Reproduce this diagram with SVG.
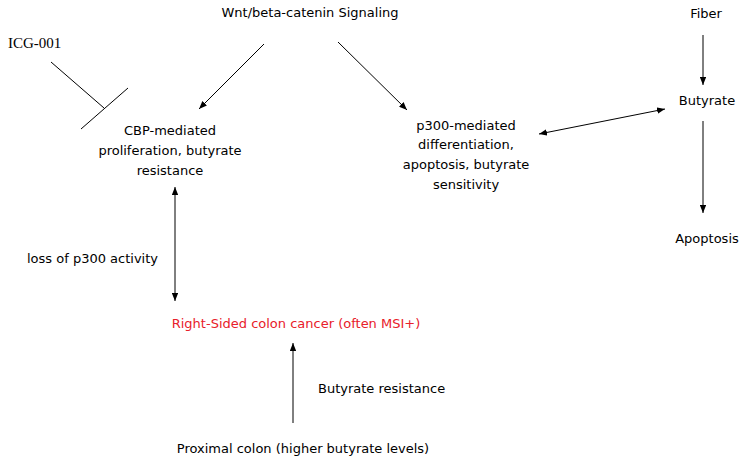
<svg xmlns="http://www.w3.org/2000/svg" width="746" height="462" viewBox="0 0 746 462">
<style>
text{font-family:"DejaVu Sans","Verdana",sans-serif;font-size:13px;fill:#000}
.m{text-anchor:middle}
.serif{font-family:"Liberation Serif","Times New Roman",serif;font-size:15px}
.red{fill:#e8202a}
.c line{stroke:#000;stroke-width:1}
.a{marker-end:url(#ah)}
.b{marker-start:url(#ahs);marker-end:url(#ah)}
</style>
<defs>
<marker id="ah" viewBox="0 0 10 8" refX="10" refY="4" markerWidth="8" markerHeight="6.4" markerUnits="userSpaceOnUse" orient="auto"><path d="M0,0L10,4L0,8z" fill="#000"/></marker>
<marker id="ahs" viewBox="0 0 10 8" refX="0" refY="4" markerWidth="8" markerHeight="6.4" markerUnits="userSpaceOnUse" orient="auto"><path d="M10,0L0,4L10,8z" fill="#000"/></marker>
</defs>
<rect width="746" height="462" fill="#fff"/>
<g class="c" id="connectors">
<line x1="51" y1="62" x2="104" y2="108"/>
<line x1="81" y1="129" x2="128" y2="88"/>
<line class="a" x1="264" y1="44" x2="199" y2="109"/>
<line class="a" x1="338" y1="42" x2="407" y2="110"/>
<line class="b" x1="539" y1="134" x2="665" y2="109"/>
<line class="a" x1="703" y1="35" x2="703" y2="85"/>
<line class="a" x1="703" y1="121" x2="703" y2="213"/>
<line class="b" x1="175" y1="187" x2="175" y2="301"/>
<line class="a" x1="293" y1="423" x2="293" y2="343"/>
</g>
<g id="wnt"><text class="m" x="310" y="17">Wnt/beta-catenin Signaling</text></g>
<g id="icg"><text class="serif" x="8" y="48">ICG-001</text></g>
<g id="fiber"><text class="m" x="706" y="18">Fiber</text></g>
<g id="butyrate"><text class="m" x="707" y="105">Butyrate</text></g>
<g id="apoptosis"><text class="m" x="707" y="243">Apoptosis</text></g>
<g id="cbp"><text class="m" x="170" y="135">CBP-mediated</text><text class="m" x="170" y="155">proliferation, butyrate</text><text class="m" x="170" y="175">resistance</text></g>
<g id="p300"><text class="m" x="466" y="130">p300-mediated</text><text class="m" x="466" y="149">differentiation,</text><text class="m" x="466" y="169">apoptosis, butyrate</text><text class="m" x="466" y="189">sensitivity</text></g>
<g id="loss"><text x="27" y="263">loss of p300 activity</text></g>
<g id="rscc"><text class="m red" x="296" y="328">Right-Sided colon cancer (often MSI+)</text></g>
<g id="butres"><text x="318" y="393">Butyrate resistance</text></g>
<g id="proximal"><text class="m" x="303" y="453">Proximal colon (higher butyrate levels)</text></g>
</svg>
